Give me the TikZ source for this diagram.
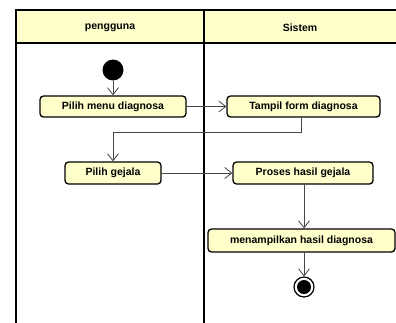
\documentclass[tikz,border=0pt]{standalone}
\usepackage{fontspec}
\setmainfont{Liberation Sans}
\usetikzlibrary{arrows.meta}
\definecolor{lanefill}{RGB}{255,255,204}
\definecolor{linegray}{RGB}{70,70,70}
\tikzset{
  act/.style={draw=black, line width=1.3pt, fill=lanefill, rounded corners=3.5pt, inner sep=0pt, font=\fontsize{10.5}{12}\selectfont\bfseries},
  flow/.style={draw=linegray, line width=0.8pt, -{Straight Barb[length=7pt,width=11pt,line width=0.8pt]}},
  lane/.style={draw=black, line width=1.3pt},
  hdrtext/.style={font=\fontsize{10.5}{12}\selectfont\bfseries}
}
\begin{document}
\begin{tikzpicture}[x=1pt,y=-1pt]
\clip (0,0) rectangle (396,322);
\fill[white] (0,0) rectangle (396,322);
% swimlanes
\fill[lanefill] (16,10) rectangle (410,43);
\draw[lane] (16,340) -- (16,10) -- (410,10);
\draw[lane] (16,43) -- (410,43);
\draw[lane] (204,10) -- (204,340);
\node[hdrtext] (h1) at (110,28) {pengguna};
\node[hdrtext] (h2) at (300,28) {Sistem};
% nodes
\node[circle, fill=black, minimum size=21pt, inner sep=0pt] (start) at (113,70) {};
\node[act, minimum width=146pt, minimum height=21pt] (a1) at (113,106.5) {Pilih menu diagnosa};
\node[act, minimum width=153pt, minimum height=21pt] (a2) at (303.5,106.5) {Tampil form diagnosa};
\node[act, minimum width=96pt, minimum height=22pt] (a3) at (113,173) {Pilih gejala};
\node[act, minimum width=140pt, minimum height=22pt] (a4) at (303,173) {Proses hasil gejala};
\node[act, minimum width=187pt, minimum height=23pt] (a5) at (301.5,240.5) {menampilkan hasil diagnosa};
\node[circle, draw=black, line width=1.2pt, fill=white, minimum size=20pt, inner sep=0pt] (end) at (304,287) {};
\node[circle, fill=black, minimum size=14pt, inner sep=0pt] (endin) at (end.center) {};
% connectors
\draw[flow] (start) -- (a1);
\draw[flow] (a1) -- (a2);
\coordinate (c1) at (301,132);
\draw[flow] (a2.south -| c1) -- (c1) -| (a3.north);
\draw[flow] (a3) -- (a4);
\draw[flow] (a4.south -| 304,0) -- (a5.north -| 304,0);
\draw[flow] (a5.south -| end) -- (end);
\end{tikzpicture}
\end{document}
